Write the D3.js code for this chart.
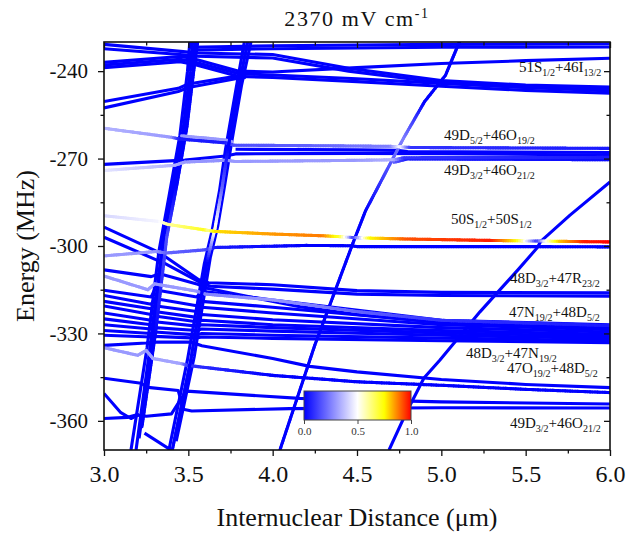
<!DOCTYPE html>
<html>
<head>
<meta charset="utf-8">
<script src="https://cdn.jsdelivr.net/npm/d3@7"></script>
<style>
  body { margin: 0; background: #fff; }
  svg text { font-family: "Liberation Serif", "Times New Roman", serif; fill: #111; }
</style>
</head>
<body>
<div id="chart"></div>
<script>
// ticks
var xTicks = [3.0, 3.5, 4.0, 4.5, 5.0, 5.5, 6.0];
var xMinor = [3.25, 3.75, 4.25, 4.75, 5.25, 5.75];
var yTicks = [-240, -270, -300, -330, -360];
var yMinor = [-255, -285, -315, -345];
var cbTicks = [0, 0.5, 1.0];

// curves: [distance (um), energy (MHz), weight 0..1 (optional)]
var steepCurves = [
  [[3.16,-370],[3.255,-335],[3.325,-302],[3.385,-283],[3.45,-262],[3.495,-240],[3.51,-229]],
  [[3.19,-370],[3.277,-333],[3.345,-300],[3.405,-281],[3.467,-261],[3.51,-240],[3.527,-229]],
  [[3.208,-366],[3.292,-331],[3.36,-298],[3.42,-280],[3.48,-260],[3.524,-240],[3.542,-229]],
  [[3.225,-362],[3.305,-330],[3.372,-297,0.15],[3.432,-279],[3.492,-259],[3.536,-238],[3.558,-229]],
  [[3.385,-370],[3.495,-339],[3.595,-306],[3.64,-295],[3.685,-281],[3.72,-267],[3.78,-247],[3.835,-229]],
  [[3.405,-370],[3.515,-339],[3.612,-305],[3.658,-294,0.55],[3.70,-280,0.2],[3.737,-266],[3.797,-246],[3.855,-229]],
  [[3.428,-367],[3.535,-338],[3.63,-304],[3.675,-293],[3.716,-279],[3.755,-265],[3.815,-245],[3.875,-229]],
  [[4.043,-370],[4.25,-334],[4.476,-299],[4.55,-288],[4.776,-263,0.25],[4.90,-250.5],[5.025,-241.4],[5.114,-229]],
  [[4.690,-370],[4.785,-358],[4.897,-345.3],[4.992,-339.1],[5.229,-322.6],[5.454,-308.2],[5.567,-300.7],[5.591,-298.3],[5.763,-289.4],[6.0,-278.0]]
];

var topLevels = [
  [[3.51,-231.8],[4.0,-231.3],[5.0,-230.8],[6.0,-230.6]],
  [[3.53,-232.8],[4.0,-232.3],[5.0,-231.8],[6.0,-231.7]],
  [[3.0,-230.8],[3.47,-233.3],[3.55,-233.8],[4.0,-234.3],[4.45,-239],[5.0,-243.2],[5.5,-244.8],[6.0,-245.5]],
  [[3.0,-232.3],[3.47,-234.4],[3.55,-234.9],[4.0,-235.5],[4.45,-240],[5.0,-244],[5.5,-245.6],[6.0,-246.3]],
  [[3.0,-237.0],[3.45,-235.0],[3.52,-235.6],[3.8,-240.0],[4.0,-240.3],[4.5,-238.8],[5.0,-237.4],[5.5,-236.4],[6.0,-235.6]],
  [[3.0,-237.9],[3.45,-235.9],[3.52,-236.6],[3.8,-240.9],[4.0,-241.3],[4.5,-242.6],[5.0,-244.2],[5.5,-245.6],[6.0,-246.8]],
  [[3.0,-238.8],[3.45,-236.8],[3.52,-237.5],[3.8,-241.8],[4.0,-242.2],[4.5,-243.6],[5.0,-245.2],[5.5,-246.6],[6.0,-247.6]],
  [[3.0,-250.4],[3.44,-245.9],[3.5,-244.4],[3.78,-241.8],[3.84,-241.5]],
  [[3.0,-252.6],[3.44,-247.0],[3.5,-245.6],[3.78,-242.6],[3.84,-242.2]]
];

var dLevels = [
  [[3.0,-259.6,0.35],[3.40,-262.7,0.3],[3.45,-263.3,0.05],[3.72,-264.6,0.05],[3.77,-265.4,0.15],[4.3,-265.6,0.2],[4.70,-265.8,0.25],[4.76,-266.0,0.5],[4.82,-266.2,0.1],[6.0,-266.5,0.05]],
  [[3.46,-262.2,0.3],[3.72,-263.6,0.3],[3.76,-264.2,0.3]],
  [[3.78,-266.8],[4.5,-267.0],[4.75,-267.2],[4.8,-267.6],[6.0,-267.9]],
  [[3.0,-272.0],[3.42,-270.7],[3.48,-270.5],[3.72,-269.1],[3.78,-268.4],[4.5,-268.2],[5.0,-268.3],[6.0,-268.8]],
  [[3.0,-274.1,0.45],[3.42,-272.3,0.35],[3.48,-271.2,0.3],[3.72,-270.6,0.28],[3.78,-271.0,0.3],[4.5,-270.6,0.3],[4.72,-270.4,0.35],[4.78,-269.7,0.1],[6.0,-269.6,0.05]],
  [[4.72,-271.3,0.2],[4.8,-270.1,0.05],[6.0,-270.4,0.02]]
];

var sLevels = [
  [[3.0,-303.4,0.3],[3.31,-301.9,0.3],[3.37,-302.4,0.2],[3.6,-301.3,0.15],[3.66,-300.5,0.05],[4.2,-299.8,0],[4.46,-299.9,0],[4.5,-300.2,0],[5.5,-300.2,0],[6.0,-300.3,0]],
  [[3.0,-289.6,0.42],[3.33,-291.6,0.48],[3.38,-292.6,0.6],[3.6,-294.5,0.72],[3.62,-294.7,0.6],[3.66,-295.0,0.78],[4.0,-295.9,0.85],[4.3,-296.5,0.88],[4.4,-296.8,0.7],[4.45,-297,0.4],[4.48,-297.1,0.1],[4.52,-297.2,0.4],[4.58,-297.3,0.75],[4.8,-297.6,0.92],[5.3,-298.1,0.97],[5.45,-298.2,0.75],[5.52,-298.3,0.4],[5.57,-298.3,0.1],[5.62,-298.3,0.5],[5.7,-298.4,0.8],[5.85,-298.5,0.97],[6.0,-298.6,1.0]]
];

var midLevels = [
  [[3.0,-293.5],[3.3,-301.5],[3.36,-303.5],[3.56,-311.5],[3.62,-312.6],[4.0,-313.3],[4.5,-315.3],[5.0,-315.9],[6.0,-316.1]],
  [[3.0,-297.0],[3.3,-304.5],[3.36,-306.0],[3.57,-312.5],[3.63,-313.8],[4.0,-314.8],[4.5,-316.5],[5.0,-317.0],[6.0,-317.2]],
  [[3.0,-308.2],[3.28,-310.5],[3.33,-309.5],[3.55,-313.0],[3.61,-314.5],[4.16,-320.8],[4.5,-323.5],[5.0,-326.3],[5.5,-327.5],[6.0,-328.2]],
  [[3.0,-310.3,0.3],[3.26,-315,0.3],[3.3,-313,0.3],[3.55,-315.5,0.3],[3.6,-316.5,0.25],[4.0,-318.5,0.3],[4.5,-322.5,0.2],[5.0,-325.5,0.1],[6.0,-327.3,0.05]],
  [[3.0,-315.2],[3.28,-317.5],[3.30,-315.0],[3.55,-317.5],[3.58,-315.5],[4.0,-318.5],[5.0,-325.5],[6.0,-327.0]],
  [[3.0,-317.0],[3.28,-320.0],[3.30,-318.0],[3.55,-320.5],[3.58,-319.0],[4.0,-321.0],[5.0,-326.2],[6.0,-327.8]],
  [[3.0,-319.0],[3.28,-321.5],[3.30,-320.5],[3.55,-322.5],[3.58,-321.0],[4.0,-323.0],[5.0,-327.0],[6.0,-328.7]],
  [[3.0,-320.6],[3.28,-323.5],[3.30,-322.5],[3.55,-324.5],[3.58,-323.5],[4.0,-325.3],[5.0,-328.0],[6.0,-329.5]],
  [[3.0,-323.0],[3.28,-325.5],[3.30,-324.0],[3.55,-326.0],[3.58,-325.5],[4.0,-327.0],[5.0,-329.0],[6.0,-330.3]],
  [[3.0,-325.0],[3.28,-327.0],[3.30,-326.0],[3.55,-327.5],[3.58,-327.0],[4.0,-328.0],[5.0,-329.8],[6.0,-331.0]],
  [[3.0,-327.0],[3.28,-328.5],[3.30,-328.0],[3.55,-329.0],[3.58,-328.5],[4.0,-329.2],[5.0,-330.6],[6.0,-331.8]],
  [[3.0,-329.0],[3.28,-330.0],[3.30,-329.5],[3.55,-330.5],[3.58,-330.0],[4.0,-330.6],[5.0,-331.6],[6.0,-332.5]],
  [[3.0,-330.6],[3.28,-331.2],[3.30,-331.0],[3.55,-331.6],[3.58,-331.2],[4.0,-331.7],[5.0,-332.5],[6.0,-333.2]]
];

var lowLevels = [
  [[3.0,-334.1],[3.25,-333.3],[3.29,-333.0],[3.52,-333.0],[3.58,-334.2],[4.0,-338.6],[4.22,-341.3],[4.5,-343.2],[5.0,-345.8],[5.5,-347.5],[6.0,-348.6]],
  [[3.0,-334.9,0.3],[3.2,-337.5,0.3],[3.25,-335.8,0.3],[3.29,-338.6,0.32],[3.46,-340.4,0.32],[3.5,-341.0,0.1],[4.0,-344.4,0],[4.5,-346.6,0],[5.0,-347.8,0],[5.5,-349.2,0],[6.0,-350.3,0]],
  [[3.0,-345.4],[3.22,-347.1],[3.26,-348.5],[3.44,-349.6],[3.47,-356.0],[3.52,-356.6],[4.1,-355.8],[5.0,-355.5],[6.0,-355.6]],
  [[3.0,-350.6],[3.1,-357.2],[3.16,-359.2],[3.21,-357.8]],
  [[3.0,-359.2],[3.14,-358.8],[3.19,-358.0],[3.25,-358.4],[3.40,-357.6],[3.45,-353.0],[3.49,-349.8],[4.16,-352.3],[5.0,-353.5],[6.0,-354.2]],
  [[3.24,-364.2],[3.41,-370.5]]
];

// state labels: parts alternate normal / subscript; anchor in data units
var stateLabels = [
  {parts: ["51S","1/2","+46I","13/2"], x: 5.46, y: -240.3},
  {parts: ["49D","5/2","+46O","19/2"], x: 5.016, y: -263.6},
  {parts: ["49D","3/2","+46O","21/2"], x: 5.016, y: -275.6},
  {parts: ["50S","1/2","+50S","1/2"], x: 5.057, y: -292.5},
  {parts: ["48D","3/2","+47R","23/2"], x: 5.407, y: -312.7},
  {parts: ["47N","19/2","+48D","5/2"], x: 5.401, y: -324.4},
  {parts: ["48D","3/2","+47N","19/2"], x: 5.146, y: -338.4},
  {parts: ["47O","19/2","+48D","5/2"], x: 5.389, y: -343.6},
  {parts: ["49D","3/2","+46O","21/2"], x: 5.407, y: -362.5}
];

var W = 628, H = 533;
var pL = 104, pR = 610, pT = 42, pB = 450;

var svg = d3.select("#chart").append("svg")
    .attr("width", W).attr("height", H);

var x = d3.scaleLinear().domain([3, 6]).range([pL, pR]);
var y = d3.scaleLinear().domain([-370, -230]).range([pB, pT]);

var color = d3.scaleLinear()
    .domain([0, 0.5, 0.75, 1])
    .range(["#0000ff", "#ffffff", "#ffff00", "#ff0000"]);

var defs = svg.append("defs");
defs.append("clipPath").attr("id", "clip")
  .append("rect").attr("x", pL).attr("y", pT)
    .attr("width", pR - pL).attr("height", pB - pT);

var plot = svg.append("g").attr("clip-path", "url(#clip)");
var lw = 3.1;

function wt(p) { return p.length > 2 ? p[2] : 0; }

var line = d3.line().x(function(d) { return x(d[0]); }).y(function(d) { return y(d[1]); });

var allCurves = steepCurves.concat(topLevels, dLevels, sLevels, midLevels, lowLevels);
var plain = allCurves.filter(function(c) { return d3.max(c, wt) < 0.02; });
var tinted = allCurves.filter(function(c) { return d3.max(c, wt) >= 0.02; })
    .sort(function(a, b) { return d3.max(a, wt) - d3.max(b, wt); });

// plain blue curves
plot.selectAll(".plain").data(plain).enter().append("path")
    .attr("class", "plain")
    .attr("d", line)
    .attr("fill", "none")
    .attr("stroke", color(0))
    .attr("stroke-width", lw)
    .attr("stroke-linejoin", "round");

// coloured curves in short pieces
tinted.forEach(function(pts) {
  var g = plot.append("g");
  for (var i = 0; i < pts.length - 1; i++) {
    var x0 = x(pts[i][0]), y0 = y(pts[i][1]);
    var x1 = x(pts[i+1][0]), y1 = y(pts[i+1][1]);
    var c0 = wt(pts[i]), c1 = wt(pts[i+1]);
    var len = Math.hypot(x1 - x0, y1 - y0);
    var n = Math.max(1, Math.ceil(len / 2.5));
    for (var k = 0; k < n; k++) {
      var t0 = k / n, t1 = (k + 1) / n, tm = (t0 + t1) / 2;
      g.append("line")
        .attr("x1", x0 + (x1 - x0) * t0).attr("y1", y0 + (y1 - y0) * t0)
        .attr("x2", x0 + (x1 - x0) * t1).attr("y2", y0 + (y1 - y0) * t1)
        .attr("stroke", color(c0 + (c1 - c0) * tm))
        .attr("stroke-width", lw)
        .attr("stroke-linecap", "round");
    }
  }
});

// state labels
stateLabels.forEach(function(l) {
  var t = svg.append("text")
    .attr("x", x(l.x)).attr("y", y(l.y))
    .attr("font-size", 15);
  l.parts.forEach(function(p, i) {
    var ts = t.append("tspan").text(p);
    if (i % 2 === 1) ts.attr("font-size", 10).attr("dy", 4);
    else if (i > 0) ts.attr("dy", -4);
  });
});

// colorbar
var cbX = d3.scaleLinear().domain([0, 1]).range([304, 411]);
var grad = defs.append("linearGradient").attr("id", "cbgrad");
d3.range(0, 1.0001, 0.05).forEach(function(v) {
  grad.append("stop").attr("offset", v).attr("stop-color", color(v));
});
svg.append("rect")
    .attr("x", cbX(0)).attr("y", 391)
    .attr("width", cbX(1) - cbX(0)).attr("height", 29)
    .attr("fill", "url(#cbgrad)")
    .attr("stroke", "#444").attr("stroke-width", 1);
var cbAxis = svg.append("g")
    .attr("transform", "translate(0,420)")
    .call(d3.axisBottom(cbX).tickValues(cbTicks).tickFormat(d3.format(".1f")).tickSize(4).tickSizeOuter(0).tickPadding(3));
cbAxis.select(".domain").remove();
cbAxis.selectAll("line").attr("stroke", "#444");
cbAxis.selectAll("text").attr("font-size", 11).style("fill", "#333")
    .style("font-family", "'Liberation Serif', serif");

// axes
function styleAxis(g) {
  g.select(".domain").remove();
  g.selectAll(".tick line").attr("stroke", "#111").attr("stroke-width", 1.3);
  g.selectAll("text").style("font-family", "'Liberation Serif', 'Times New Roman', serif").style("fill", "#111");
}

svg.append("g").attr("transform", "translate(0," + pB + ")")
  .call(d3.axisBottom(x).tickValues(xTicks).tickFormat(d3.format(".1f")).tickSize(6).tickSizeOuter(0).tickPadding(9))
  .call(styleAxis)
  .selectAll("text").attr("font-size", 24);
svg.append("g").attr("transform", "translate(0," + pB + ")")
  .call(d3.axisBottom(x).tickValues(xMinor).tickFormat("").tickSize(3.5).tickSizeOuter(0))
  .call(styleAxis);
svg.append("g").attr("transform", "translate(0," + pT + ")")
  .call(d3.axisTop(x).tickValues(xTicks).tickFormat("").tickSize(-6).tickSizeOuter(0))
  .call(styleAxis);
svg.append("g").attr("transform", "translate(0," + pT + ")")
  .call(d3.axisTop(x).tickValues(xMinor).tickFormat("").tickSize(-3.5).tickSizeOuter(0))
  .call(styleAxis);

svg.append("g").attr("transform", "translate(" + pL + ",0)")
  .call(d3.axisLeft(y).tickValues(yTicks).tickFormat(function(d) { return String(d); }).tickSize(6).tickSizeOuter(0).tickPadding(10))
  .call(styleAxis)
  .selectAll("text").attr("font-size", 21);
svg.append("g").attr("transform", "translate(" + pL + ",0)")
  .call(d3.axisLeft(y).tickValues(yMinor).tickFormat("").tickSize(3.5).tickSizeOuter(0))
  .call(styleAxis);
svg.append("g").attr("transform", "translate(" + pR + ",0)")
  .call(d3.axisRight(y).tickValues(yTicks).tickFormat("").tickSize(-6).tickSizeOuter(0))
  .call(styleAxis);
svg.append("g").attr("transform", "translate(" + pR + ",0)")
  .call(d3.axisRight(y).tickValues(yMinor).tickFormat("").tickSize(-3.5).tickSizeOuter(0))
  .call(styleAxis);

// frame
svg.append("rect")
    .attr("x", pL).attr("y", pT)
    .attr("width", pR - pL).attr("height", pB - pT)
    .attr("fill", "none").attr("stroke", "#111").attr("stroke-width", 1.6);

// titles
var title = svg.append("text")
    .attr("x", (pL + pR) / 2).attr("y", 26)
    .attr("text-anchor", "middle")
    .attr("font-size", 22)
    .attr("letter-spacing", 1.6);
title.append("tspan").text("2370 mV cm");
title.append("tspan").text("-1").attr("font-size", 14).attr("dy", -8);

svg.append("text")
    .attr("x", (pL + pR) / 2).attr("y", 526)
    .attr("text-anchor", "middle")
    .attr("font-size", 26)
    .text("Internuclear Distance (\u03bcm)");

svg.append("text")
    .attr("transform", "translate(34," + ((pT + pB) / 2) + ") rotate(-90)")
    .attr("text-anchor", "middle")
    .attr("font-size", 26)
    .text("Energy (MHz)");
</script>
</body>
</html>
